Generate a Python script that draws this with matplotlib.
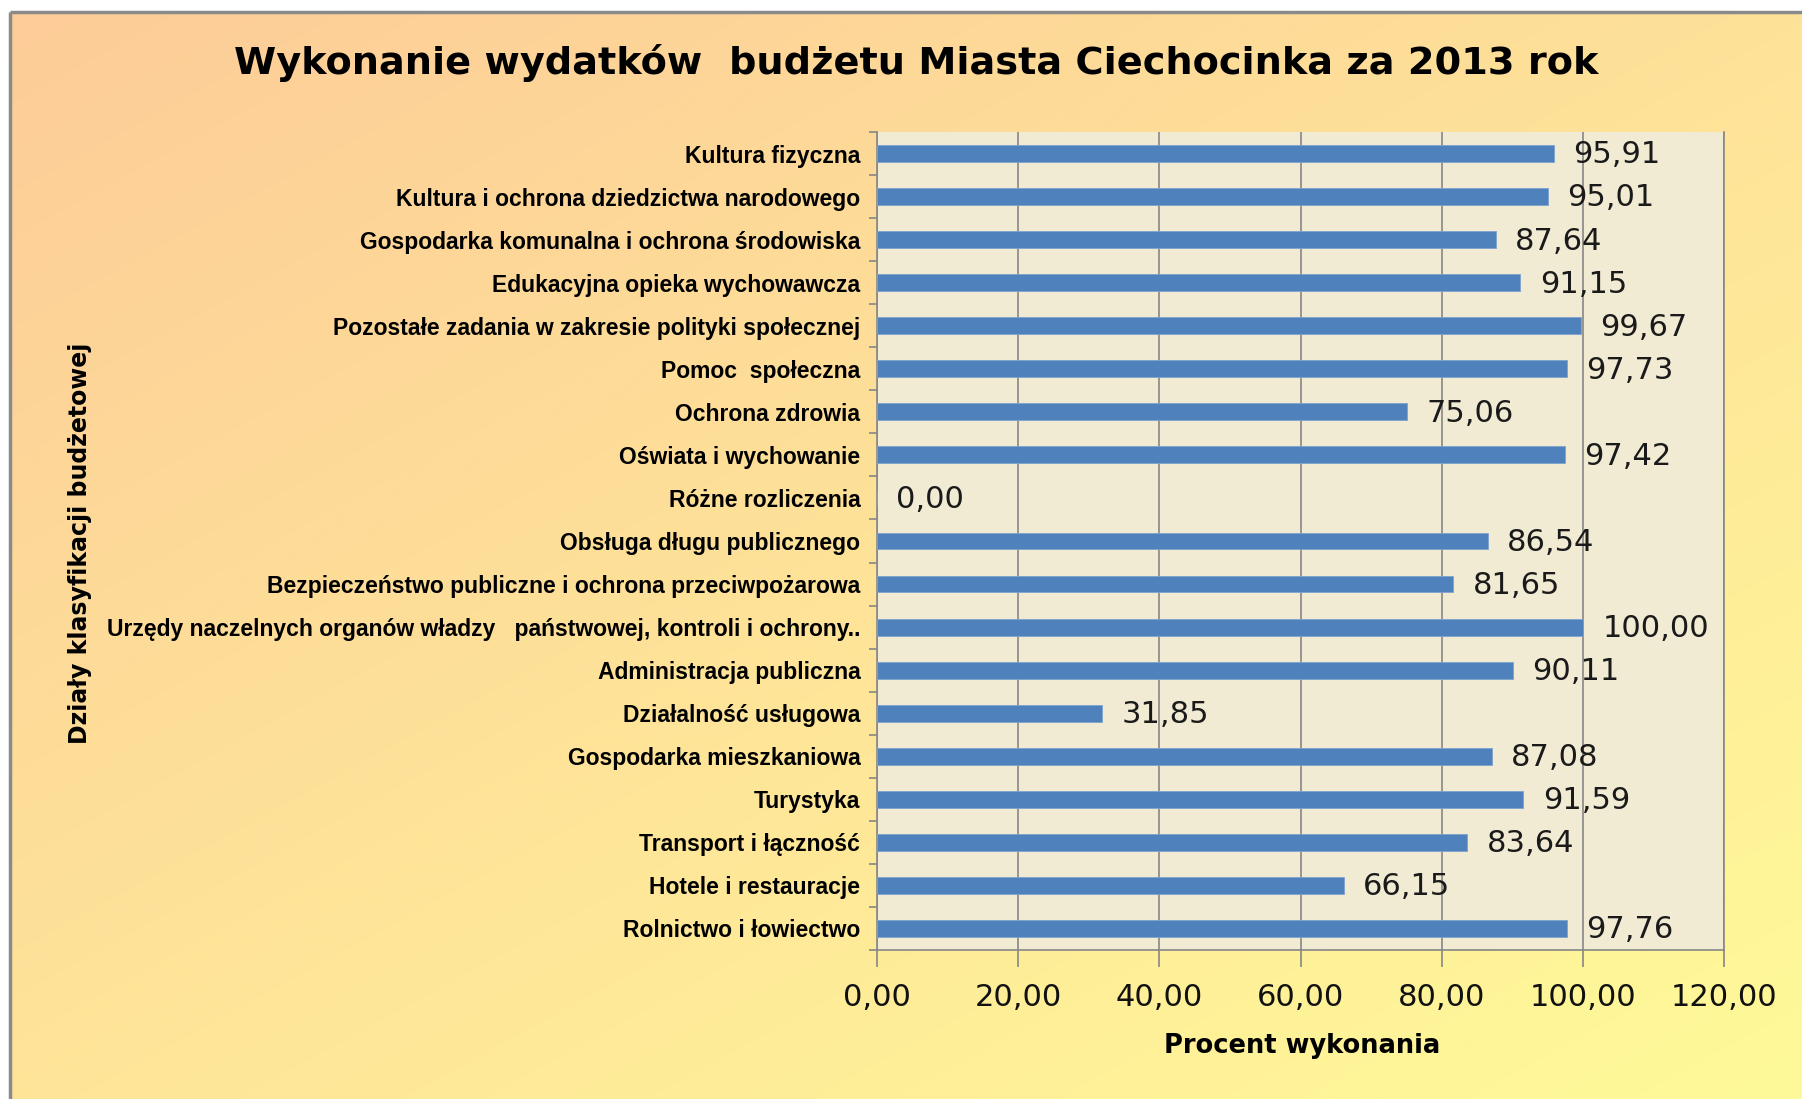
import numpy as np
import matplotlib
matplotlib.use("Agg")
import matplotlib.pyplot as plt
from matplotlib.ticker import FixedLocator, FuncFormatter

# ---- data (top to bottom as shown) ----
categories = [
    "Kultura fizyczna",
    "Kultura i ochrona dziedzictwa narodowego",
    "Gospodarka komunalna i ochrona środowiska",
    "Edukacyjna opieka wychowawcza",
    "Pozostałe zadania w zakresie polityki społecznej",
    "Pomoc  społeczna",
    "Ochrona zdrowia",
    "Oświata i wychowanie",
    "Różne rozliczenia",
    "Obsługa długu publicznego",
    "Bezpieczeństwo publiczne i ochrona przeciwpożarowa",
    "Urzędy naczelnych organów władzy   państwowej, kontroli i ochrony..",
    "Administracja publiczna",
    "Działalność usługowa",
    "Gospodarka mieszkaniowa",
    "Turystyka",
    "Transport i łączność",
    "Hotele i restauracje",
    "Rolnictwo i łowiectwo",
]
values = [95.91, 95.01, 87.64, 91.15, 99.67, 97.73, 75.06, 97.42, 0.00, 86.54,
          81.65, 100.00, 90.11, 31.85, 87.08, 91.59, 83.64, 66.15, 97.76]
x_ticks = [0, 20, 40, 60, 80, 100, 120]

title = "Wykonanie wydatków  budżetu Miasta Ciechocinka za 2013 rok"
xlabel = "Procent wykonania"
ylabel = "Działy klasyfikacji budżetowej"

W, H = 1802, 1099
fig = plt.figure(figsize=(W / 100, H / 100), dpi=100)
fig.patch.set_facecolor("white")

# ---- gradient background ----
bg = fig.add_axes([0, 0, 1, 1], zorder=-10)
bg.set_xlim(0, W)
bg.set_ylim(H, 0)
bg.axis("off")
gx, gy = np.meshgrid(np.linspace(0, 1, 400), np.linspace(0, 1, 250))
t = np.clip((gx * 0.9 + gy * 1.0) / 1.9, 0, 1)
c0 = np.array([253, 204, 152]) / 255.0
c1 = np.array([255, 250, 152]) / 255.0
img = c0[None, None, :] * (1 - t[..., None]) + c1[None, None, :] * t[..., None]
x0, y0 = 10, 12
bg.imshow(img, extent=[x0, W, H, y0], aspect="auto", interpolation="bilinear")
bg.plot([x0, x0], [H, y0], color="#8a8a8a", lw=2.5, solid_capstyle="butt")
bg.plot([x0, W], [y0, y0], color="#8a8a8a", lw=2.5, solid_capstyle="butt")

# ---- plot area ----
L, R, T, B = 877, 1724, 132, 950
ax = fig.add_axes([L / W, 1 - B / H, (R - L) / W, (B - T) / H])
ax.set_facecolor("#F2EBD4")

n = len(categories)
ypos = np.arange(n)
ax.barh(ypos, values, height=0.39, color="#4F81BD", edgecolor="#7DA2CE",
        linewidth=0.6, zorder=3)
ax.set_ylim(n - 0.5, -0.5)
ax.set_xlim(0, 120)

ax.xaxis.set_major_locator(FixedLocator(x_ticks))
ax.xaxis.set_major_formatter(FuncFormatter(lambda v, p: f"{v:.2f}".replace(".", ",")))
ax.grid(axis="x", color="#878787", lw=1.2, zorder=1)
ax.set_axisbelow(True)

ax.set_yticks(ypos)
ax.set_yticklabels(categories, fontsize=16.5, fontweight="bold",
                   family=["Liberation Sans", "DejaVu Sans"])
ax.set_yticks(np.arange(-0.5, n, 1.0), minor=True)
ax.tick_params(axis="y", which="major", length=0, pad=12)
ax.tick_params(axis="y", which="minor", length=6, color="#878787", width=1.2)
ax.tick_params(axis="x", which="major", length=12, color="#878787", width=1.2,
               pad=12, labelsize=22, labelcolor="#111111")

ax.spines["top"].set_visible(False)
for s in ["left", "bottom", "right"]:
    ax.spines[s].set_color("#878787")
    ax.spines[s].set_linewidth(1.2)

for i, v in enumerate(values):
    ax.annotate(f"{v:.2f}".replace(".", ","), xy=(v, i), xytext=(14, -1),
                textcoords="offset points", va="center", ha="left",
                fontsize=22, color="#1a1a1a", zorder=5)

fig.text(916 / W, 1 - 63 / H, title, ha="center", va="center",
         fontsize=27.5, fontweight="bold", color="black")
fig.text(1302 / W, 1 - 1046 / H, xlabel, ha="center", va="center",
         fontsize=18.5, fontweight="bold", color="black")
fig.text(80 / W, 1 - 543 / H, ylabel, ha="center", va="center", rotation=90,
         fontsize=17, fontweight="bold", color="black")

fig.savefig("out.png", dpi=100)
